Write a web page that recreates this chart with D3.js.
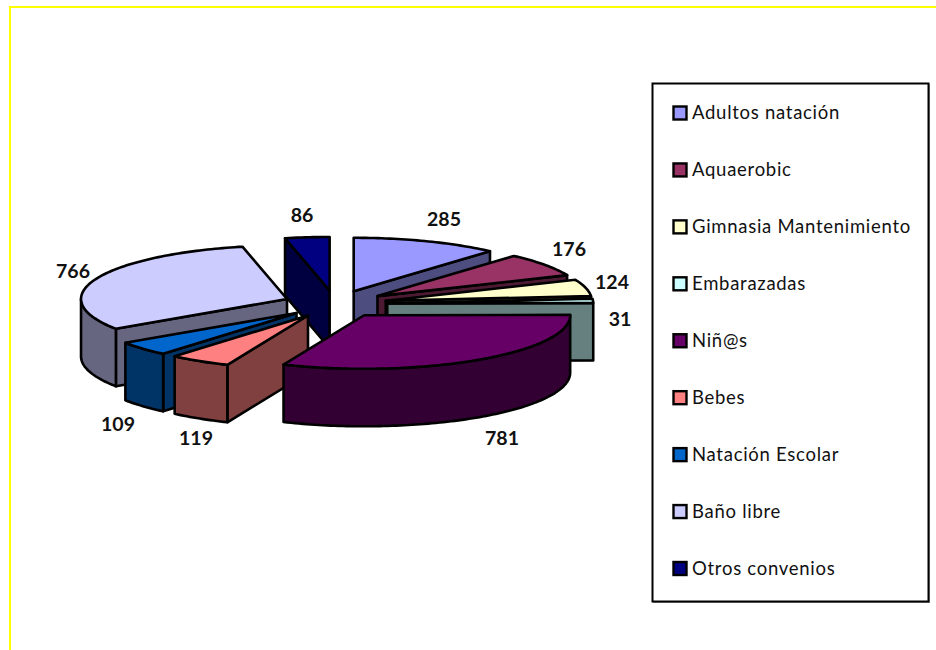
<!DOCTYPE html>
<html><head><meta charset="utf-8">
<script src="https://cdn.jsdelivr.net/npm/d3@7"></script>
<style>html,body{margin:0;padding:0;background:#fff;overflow:hidden}</style>
</head><body><svg id="c" width="936" height="650"></svg>
<script>
const categories = ["Adultos natación","Aquaerobic","Gimnasia Mantenimiento","Embarazadas","Niñ@s","Bebes","Natación Escolar","Baño libre","Otros convenios"];
const values = [285,176,124,31,781,119,109,766,86];
const colors = ["#9999FF","#993366","#FFFFCC","#CCFFFF","#660066","#FF8080","#0066CC","#CCCCFF","#000080"];

const cx=335.3, cy=304, rx=206, tilt=0.26, depth=57.5, explode=52;
const svg=d3.select("#c");
const FONT="Lato, 'Open Sans', sans-serif";

// yellow frame
svg.append("path").attr("d","M10,650V7H936").attr("fill","none").attr("stroke","#FFFF00").attr("stroke-width",2);

const pie=d3.pie().value(d=>d).sort(null)(values);
const line=d3.line();
const tau=2*Math.PI;
const pt=(a,r,ox,oy,dz=0)=>[ox+r*Math.sin(a), oy-r*tilt*Math.cos(a)+dz];
const arcPts=(a0,a1,ox,oy,dz=0)=>{const n=Math.max(2,Math.ceil((a1-a0)/0.02));return d3.range(n+1).map(i=>pt(a0+(a1-a0)*i/n,rx,ox,oy,dz));};
const slices=pie.map((d,i)=>{const m=(d.startAngle+d.endAngle)/2;
  return {i,a0:d.startAngle,a1:d.endAngle,ox:cx+explode*Math.sin(m),oy:cy-explode*tilt*Math.cos(m)};});
const order=[8,0,1,2,3,7,6,5,4];
const g=svg.append("g").attr("stroke","#000").attr("stroke-width",2.6).attr("stroke-linejoin","round");
order.forEach(k=>{const s=slices[k],top=colors[k],side=d3.rgb(top);
  const dark=d3.rgb(Math.round(side.r/2),Math.round(side.g/2),Math.round(side.b/2)).formatHex();
  const face=(a)=>{const p=pt(a,rx,s.ox,s.oy);
    g.append("path").attr("fill",dark).attr("d",line([[s.ox,s.oy],p,[p[0],p[1]+depth],[s.ox,s.oy+depth]])+"Z");};
  if(s.a0>Math.PI&&s.a0<tau) face(s.a0);
  if(s.a1>0&&s.a1<Math.PI) face(s.a1);
  const w0=Math.max(s.a0,Math.PI/2),w1=Math.min(s.a1,1.5*Math.PI);
  if(w1>w0){const up=arcPts(w0,w1,s.ox,s.oy),dn=arcPts(w0,w1,s.ox,s.oy,depth).reverse();
    g.append("path").attr("fill",dark).attr("d",line(up.concat(dn))+"Z");}
  g.append("path").attr("fill",top).attr("d",line([[s.ox,s.oy],...arcPts(s.a0,s.a1,s.ox,s.oy)])+"Z");
});

// value labels
const labelPos=[[444,219],[569,249],[612,282],[620,319],[502,438],[196,438],[118,424],[73,271],[302,215]];
svg.append("g").selectAll("text").data(values).join("text")
  .attr("x",(d,i)=>labelPos[i][0]).attr("y",(d,i)=>labelPos[i][1]).attr("dy","0.35em")
  .attr("text-anchor","middle").attr("font-family",FONT).attr("font-weight",700).attr("font-size",19.5).attr("fill","#111")
  .text(d=>d);

// legend
svg.append("rect").attr("x",653.5).attr("y",84.5).attr("width",276).attr("height",518).attr("fill","none").attr("stroke","#999").attr("stroke-width",1);
svg.append("rect").attr("x",652.5).attr("y",83.5).attr("width",276).attr("height",518).attr("fill","#fff").attr("stroke","#000").attr("stroke-width",2);
const ly=d3.scalePoint().domain(categories).range([113,568.5]);
const lg=svg.append("g").selectAll("g").data(categories).join("g").attr("transform",d=>`translate(0,${ly(d)})`);
lg.append("rect").attr("x",673.5).attr("y",-6.5).attr("width",13).attr("height",13).attr("fill",(d,i)=>colors[i]).attr("stroke","#000").attr("stroke-width",2.4);
lg.append("text").attr("x",692).attr("dy","0.35em").attr("font-family",FONT).attr("font-size",18.5).attr("letter-spacing",0.72).attr("fill","#111").text(d=>d);
</script></body></html>
